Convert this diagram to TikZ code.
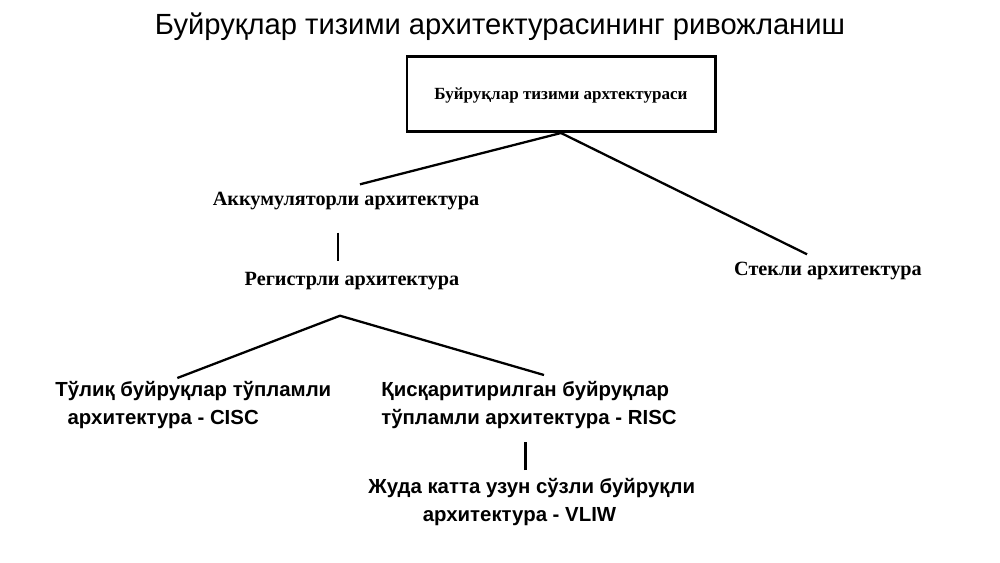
\documentclass[tikz,border=0pt]{standalone}
\usepackage{fontspec}
\setmainfont{Liberation Serif}
\setsansfont{Liberation Sans}
\usetikzlibrary{positioning,calc}
\tikzset{heading/.style={font=\sffamily\fontsize{16.6}{18}\selectfont}}
\tikzset{topbox/.style={draw,line width=1.7pt,minimum width=61.6mm,minimum height=15mm,font=\bfseries\fontsize{9.7}{12}\selectfont}}
\tikzset{arch/.style={inner sep=0pt,font=\bfseries\fontsize{11.5}{13}\selectfont}}
\tikzset{kind/.style={inner sep=0pt,font=\sffamily\bfseries\fontsize{11.6}{16}\selectfont}}
\tikzset{link/.style={line width=1.3pt}}
\tikzset{bar/.style={line width=1.7pt}}

\begin{document}
\begin{tikzpicture}[x=0.2mm,y=-0.2mm]
  \useasboundingbox (0,0) rectangle (1000,562);
  \node[heading,anchor=base] (title) at (500,34) {Буйруқлар тизими архитектурасининг ривожланиш};
  \node[topbox,text depth=-3pt] (top) at (561,94) {Буйруқлар тизими архтектураси};

  \node[arch,anchor=base] (akk) at (346,205) {Аккумуляторли архитектура};
  \node[arch,anchor=base] (reg) at (352,285) {Регистрли архитектура};
  \node[arch,anchor=base] (stek) at (828,275) {Стекли архитектура};

  \node[kind,anchor=north west,align=left] (cisc) at (55,381)
    {Тўлиқ буйруқлар тўпламли\\\hspace{7pt}архитектура - CISC};
  \node[kind,anchor=north west,align=left] (risc) at (381,381)
    {Қисқаритирилган буйруқлар\\тўпламли архитектура - RISC};
  \node[kind,anchor=north west,align=left] (vliw) at (368,478)
    {Жуда катта узун сўзли буйруқли\\\hspace{31pt}архитектура - VLIW};

  \draw[link] (top.south) -- ($(akk.north)+(14,-7)$);
  \draw[link] (top.south) -- ($(stek.north)+(-21,-7)$);
  \draw[bar] ($(akk.south)+(-8,23)$) -- ($(reg.north)+(-14,-10)$);
  \draw[link] ($(cisc.north)+(-16,-3)$) -- ($(reg.south)+(-12,26)$)
    -- ($(risc.north)+(15,-6)$);
  \draw[bar] ($(vliw.north)+(-6,-8)$) -- ($(vliw.north)+(-6,-36)$);
\end{tikzpicture}
\end{document}
